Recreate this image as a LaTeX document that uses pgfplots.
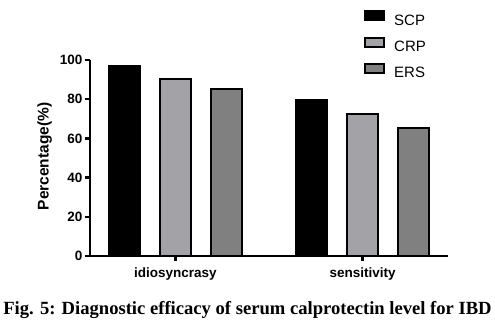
\documentclass[border=0pt]{standalone}
\usepackage{pgfplots}
\pgfplotsset{compat=1.18}
\usepackage{fontspec}
\setmainfont{Liberation Sans}
\newfontfamily\capfont{Liberation Serif}
\definecolor{crpgray}{RGB}{163,162,166}
\definecolor{ersgray}{RGB}{128,128,128}
\pgfplotstableread{
x   scp   crp   ers
0   96.8  90.2  85.4
1   79.7  72.4  65.4
}\datatable
\pgfplotsset{
  mylegend/.style={legend image code/.code={\draw[##1,/tikz/.cd,line width=2bp] (0bp,0.8bp) rectangle (19bp,9.8bp);}},
}
\begin{document}
\begin{tikzpicture}
\useasboundingbox (0,0) rectangle (495bp,328bp);
\begin{axis}[
  at={(90bp,72bp)}, anchor=south west,
  scale only axis, width=358bp, height=196bp,
  xmin=-0.457, xmax=1.457, ymin=0, ymax=100,
  axis x line=bottom, axis y line=left,
  axis line style={-, line width=2.5bp, black},
  xtick={0,1}, xticklabels={idiosyncrasy, sensitivity},
  ytick={0,20,40,60,80,100},
  tick align=outside, major tick length=5bp,
  tick style={line width=2.5bp, black},
  /pgf/number format/assume math mode=true,
  ticklabel style={font=\fontsize{13.5bp}{16bp}\selectfont\bfseries},
  yticklabel style={inner sep=2.5bp},
  xticklabel style={yshift=-3bp},
  ylabel={Percentage(\%)},
  ylabel style={at={(axis description cs:-0.127,0.508)}, anchor=center, font=\fontsize{15.5bp}{18bp}\selectfont\bfseries},
  legend style={at={(axis description cs:0.7654,1.2536)}, anchor=north west, draw=none, fill=none, inner sep=0pt,
    row sep=6.5bp, column sep=7bp, font=\fontsize{15bp}{18bp}\selectfont,
    nodes={text height=11bp, text depth=3bp, inner sep=2bp}},
  legend cell align=left,
  clip=false,
]
\addplot[ybar, bar width=0.167, bar shift=-0.273, fill=black, draw=black, line width=2.2bp, mylegend] table[x=x,y=scp]{\datatable};
\addplot[ybar, bar width=0.167, bar shift=0, fill=crpgray, draw=black, line width=2.2bp, mylegend] table[x=x,y=crp]{\datatable};
\addplot[ybar, bar width=0.167, bar shift=0.273, fill=ersgray, draw=black, line width=2.2bp, mylegend] table[x=x,y=ers]{\datatable};
\legend{SCP, CRP, ERS}
\end{axis}
\node[anchor=base, font=\capfont\fontsize{18.6bp}{22bp}\selectfont\bfseries] at (247.5bp,14bp) {Fig. 5: Diagnostic efficacy of serum calprotectin level for IBD};
\end{tikzpicture}
\end{document}
